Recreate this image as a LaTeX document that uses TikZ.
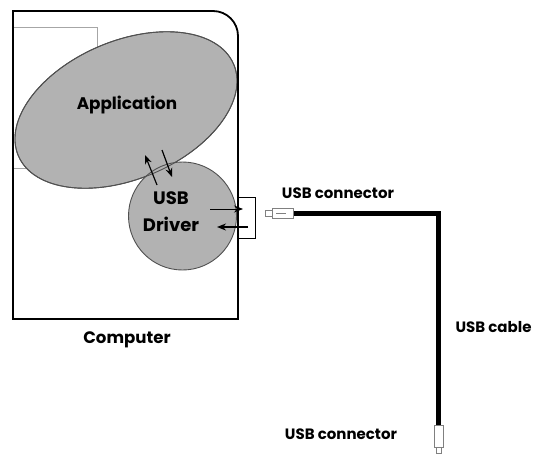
\documentclass[tikz,border=0pt]{standalone}
\usepackage{fontspec}
\setmainfont{Poppins}
\usepackage{tikz}
\usetikzlibrary{arrows.meta}

\definecolor{blobgray}{RGB}{178,178,178}
\definecolor{edgegray}{RGB}{80,80,80}

\tikzset{
  lbl/.style={font=\bfseries\fontsize{15}{17}\selectfont, inner sep=0pt},
  blob/.style={fill=blobgray, draw=edgegray, line width=0.9pt},
  flow/.style={-{Stealth[length=9pt,width=7pt]}, line width=1.2pt},
  plug/.style={draw=gray, fill=white, line width=0.8pt},
}

\begin{document}
\begin{tikzpicture}[x=1pt,y=1pt,>=Stealth]
    \useasboundingbox (0,0) rectangle (540,459);
    % computer
    \draw[gray!70, line width=0.8pt] (13,432) rectangle (97,291);
    \filldraw[blob, rotate around={23:(126,349)}] (126,349) ellipse (117 and 69);
    \node[circle, blob, minimum size=108pt] (drvc) at (182.5,243) {};
    \draw[edgegray, line width=0.9pt, rotate around={23:(126,349)}] (126,349) ellipse (117 and 69);
    \node[lbl, font=\bfseries\fontsize{16.8}{18}\selectfont] (app) at (127,354) {Application};
    \node[lbl, font=\bfseries\fontsize{18}{27}\selectfont, align=center] (drv) at (171,247) {USB\\Driver};
    \draw[line width=1.8pt] (13,140) -- (13,448) -- (213,448)
        arc[start angle=90, end angle=0, radius=25] -- (238,140) -- cycle;
    \node[lbl, font=\bfseries\fontsize{16.6}{18}\selectfont] (comp) at (127,119) {Computer};
    % port
    \draw[line width=0.9pt] (237,262) rectangle (255,221);
    \coordinate (p1) at (210,250);
    \coordinate (p2) at (243,250);
    \coordinate (p3) at (248,232);
    \coordinate (p4) at (217,232);
    \draw[flow, line width=0.8pt] (p1) -- (p2);
    \draw[flow, line width=1.6pt] (p3) -- (p4);
    % app <-> driver
    \coordinate (a1) at (157,274);
    \coordinate (a2) at (145,304);
    \coordinate (a3) at (162,309);
    \coordinate (a4) at (172,282);
    \draw[flow] (a1) -- (a2);
    \draw[flow] (a3) -- (a4);
    % cable
    \coordinate (c1) at (293,246);
    \coordinate (c2) at (438,246);
    \coordinate (c3) at (438,34);
    \draw[line width=5pt] (c1) -- (c2) -- (c3);
    \draw[plug] (265,243) rectangle (272,249);
    \draw[plug] (272,241) rectangle (293,251);
    \draw[gray, line width=0.5pt] (276,246) -- (286,246);
    \draw[plug] (434,34) rectangle (443,12);
    \draw[plug] (436,12) rectangle (441,6);
    \node[lbl] (top) at (338,266) {USB connector};
    \node[lbl] (cab) at (493.5,132) {USB cable};
    \node[lbl] (bot) at (341,25) {USB connector};
\end{tikzpicture}
\end{document}
